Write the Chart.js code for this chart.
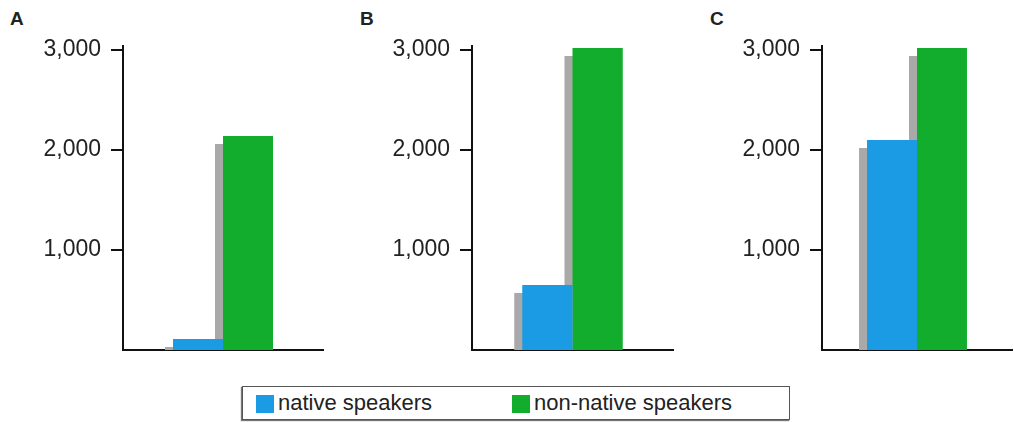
<!DOCTYPE html>
<html lang="en">
<head>
  <meta charset="UTF-8">
  <title>Native and non-native speakers</title>
  <style>
    body {
      margin: 0;
      background: #fff;
      font-family: "Liberation Sans", Arial, sans-serif;
      color: #222;
    }
    .page {
      position: relative;
      width: 1014px;
      height: 422px;
      overflow: hidden;
    }
    .letter {
      position: absolute;
      top: 8px;
      font-weight: bold;
      font-size: 19px;
    }
    canvas {
      position: absolute;
      top: 0;
    }
    .legend {
      position: absolute;
      left: 242px;
      top: 386px;
      width: 548px;
      height: 34px;
      border: 1px solid #555;
      box-shadow: -1px 1px 1px #777;
      font-size: 22px;
      line-height: 34px;
      box-sizing: border-box;
    }
    .legend span {
      position: absolute;
      top: -1px;
    }
    .legend i {
      position: absolute;
      top: 8px;
      width: 18px;
      height: 18px;
    }
  </style>
</head>
<body>
  <div class="page">
    <div class="letter" style="left:10px">A</div>
    <div class="letter" style="left:360px">B</div>
    <div class="letter" style="left:710px">C</div>
    <canvas id="chartA" width="335" height="352" style="left:0px"></canvas>
    <canvas id="chartB" width="335" height="352" style="left:350px"></canvas>
    <canvas id="chartC" width="314" height="352" style="left:700px"></canvas>
    <div class="legend">
      <i style="left:13px; background:#1b9be3"></i><span style="left:35px">native speakers</span>
      <i style="left:269px; background:#12ad2c"></i><span style="left:291px">non-native speakers</span>
    </div>
  </div>

  <script src="https://cdn.jsdelivr.net/npm/chart.js@4.4.1/dist/chart.umd.min.js"></script>
  <script>
    const panels = ['A', 'B', 'C'];
    const seriesNames = ['native speakers', 'non-native speakers'];
    const nativeValues = [110, 650, 2100];
    const nonNativeValues = [2140, 3020, 3020];
    const tickValues = [1000, 2000, 3000];

    // gray drop shadow behind each bar, offset down and to the left
    const shadowPlugin = {
      id: 'barShadow',
      beforeDatasetDraw(chart) {
        const ctx = chart.ctx;
        const dpr = chart.currentDevicePixelRatio || 1;
        ctx.save();
        ctx.shadowColor = '#a9a9a9';
        ctx.shadowBlur = 0;
        ctx.shadowOffsetX = -8 * dpr;
        ctx.shadowOffsetY = 8 * dpr;
      },
      afterDatasetDraw(chart) {
        chart.ctx.restore();
      }
    };

    function makeChart(id, i, axisWidth, rightPad, catPct) {
      const ctx = document.getElementById(id).getContext('2d');
      return new Chart(ctx, {
        type: 'bar',
        data: {
          labels: [panels[i]],
          datasets: [{
            label: seriesNames[0],
            data: [nativeValues[i]],
            backgroundColor: '#1b9be3',
            barPercentage: 1,
            categoryPercentage: catPct,
            clip: 0
          }, {
            label: seriesNames[1],
            data: [nonNativeValues[i]],
            backgroundColor: '#12ad2c',
            barPercentage: 1,
            categoryPercentage: catPct,
            clip: 0
          }]
        },
        options: {
          responsive: false,
          animation: false,
          layout: { padding: { top: 46, right: rightPad, bottom: 2, left: 0 } },
          plugins: {
            legend: { display: false },
            tooltip: { enabled: false }
          },
          scales: {
            x: {
              ticks: { display: false },
              grid: { display: false },
              border: { display: true, color: '#111', width: 2 },
              afterFit(scale) { scale.height = 0; }
            },
            y: {
              min: 0,
              max: 3040,
              ticks: {
                padding: 10,
                color: '#222',
                font: { family: '"Liberation Sans", Arial, sans-serif', size: 23 },
                callback: v => v.toLocaleString('en-US')
              },
              grid: {
                drawOnChartArea: false,
                drawTicks: true,
                tickLength: 12,
                color: '#111',
                lineWidth: 2
              },
              border: { display: true, color: '#111', width: 2 },
              afterBuildTicks(scale) {
                scale.ticks = tickValues.map(v => ({ value: v }));
              },
              afterFit(scale) {
                scale.width = axisWidth;
                scale.paddingTop = 0;
                scale.paddingBottom = 0;
              }
            }
          }
        },
        plugins: [shadowPlugin]
      });
    }

    makeChart('chartA', 0, 123, 12, 0.5);
    makeChart('chartB', 1, 122, 12, 0.5);
    makeChart('chartC', 2, 122, 2, 0.526);
  </script>
</body>
</html>
